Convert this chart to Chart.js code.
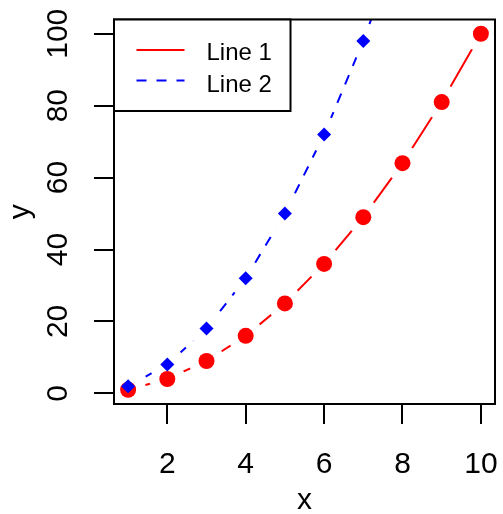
<!DOCTYPE html>
<html>
<head>
<meta charset="utf-8">
<script src="https://cdn.jsdelivr.net/npm/chart.js@4.4.1/dist/chart.umd.min.js"></script>
<style>
    html, body { margin: 0; padding: 0; background: #fff; }
    #wrap { width: 503px; height: 514px; }
</style>
</head>
<body>
<div id="wrap"><canvas id="plot" width="503" height="514"></canvas></div>
<script>
const xValues = [1, 2, 3, 4, 5, 6, 7, 8, 9, 10];
const line1 = [1, 4, 9, 16, 25, 36, 49, 64, 81, 100];
const line2 = [2, 8, 18, 32, 50, 72, 98, 128, 162, 200];
const seriesNames = ['Line 1', 'Line 2'];
const xTicks = [2, 4, 6, 8, 10];
const yTicks = [0, 20, 40, 60, 80, 100];

const red = '#ff0000';
const blue = '#0000ff';
const gap = 18;
const axisFont = '30px "Liberation Sans", Arial, sans-serif';
const legendFont = '24px "Liberation Sans", Arial, sans-serif';

function toPoints(ys) {
    return xValues.map((x, i) => ({x: x, y: ys[i]}));
}

// lines stop short of their own points (type "b" look)
const gapLines = {
    id: 'gapLines',
    beforeDatasetDraw(chart, args) {
        const ds = chart.data.datasets[args.index];
        if (!ds.gapped) return;
        const ctx = chart.ctx;
        ctx.save();
        ctx.beginPath();
        ctx.rect(0, 0, chart.width, chart.height);
        args.meta.data.forEach(p => {
            ctx.moveTo(p.x + gap, p.y);
            ctx.arc(p.x, p.y, gap, 0, Math.PI * 2);
        });
        ctx.clip('evenodd');
    },
    afterDatasetDraw(chart, args) {
        if (chart.data.datasets[args.index].gapped) chart.ctx.restore();
    }
};

// box, axis labels and legend
const frame = {
    id: 'frame',
    afterDraw(chart) {
        const ctx = chart.ctx;
        const a = chart.chartArea;
        const xs = chart.scales.x;
        const ys = chart.scales.y;
        ctx.save();
        ctx.strokeStyle = '#000';
        ctx.lineWidth = 2;
        ctx.strokeRect(a.left, a.top, a.right - a.left, a.bottom - a.top);

        ctx.fillStyle = '#000';
        ctx.font = axisFont;
        ctx.textAlign = 'center';
        ctx.textBaseline = 'alphabetic';
        xTicks.forEach(v => ctx.fillText(String(v), xs.getPixelForValue(v), 473));
        ctx.fillText('x', (a.left + a.right) / 2, 509);

        yTicks.forEach(v => {
            ctx.save();
            ctx.translate(67, ys.getPixelForValue(v));
            ctx.rotate(-Math.PI / 2);
            ctx.fillText(String(v), 0, 0);
            ctx.restore();
        });
        ctx.save();
        ctx.translate(29, (a.top + a.bottom) / 2);
        ctx.rotate(-Math.PI / 2);
        ctx.fillText('y', 0, 0);
        ctx.restore();

        // legend, top left
        const L = a.left, T = a.top;
        ctx.fillStyle = '#fff';
        ctx.fillRect(L, T, 176.5, 91.5);
        ctx.strokeRect(L, T, 176.5, 91.5);
        const rows = [
            {name: seriesNames[0], color: red, dash: []},
            {name: seriesNames[1], color: blue, dash: [10, 10]}
        ];
        ctx.font = legendFont;
        ctx.textAlign = 'left';
        rows.forEach((r, i) => {
            const ly = T + 30.5 + i * 30.5;
            ctx.strokeStyle = r.color;
            ctx.setLineDash(r.dash);
            ctx.beginPath();
            ctx.moveTo(L + 22.5, ly);
            ctx.lineTo(L + 70.5, ly);
            ctx.stroke();
            ctx.fillStyle = '#000';
            ctx.fillText(r.name, L + 92.5, T + 40.5 + i * 31.7);
        });
        ctx.restore();
    }
};

const tickGrid = {
    drawOnChartArea: false,
    drawTicks: true,
    tickLength: 20,
    lineWidth: 2,
    color: '#000'
};

new Chart(document.getElementById('plot'), {
    type: 'line',
    data: {
        datasets: [
            {
                label: seriesNames[1],
                data: toPoints(line2),
                showLine: false,
                pointStyle: 'rectRot',
                pointRadius: 7,
                pointBackgroundColor: blue,
                pointBorderWidth: 0,
                order: 0
            },
            {
                label: seriesNames[1],
                data: toPoints(line2),
                borderColor: blue,
                borderWidth: 2,
                borderDash: [10, 10],
                pointRadius: 0,
                tension: 0,
                gapped: true,
                order: 1
            },
            {
                label: seriesNames[0],
                data: toPoints(line1),
                showLine: false,
                pointStyle: 'circle',
                pointRadius: 8,
                pointBackgroundColor: red,
                pointBorderWidth: 0,
                order: 2
            },
            {
                label: seriesNames[0],
                data: toPoints(line1),
                borderColor: red,
                borderWidth: 2,
                pointRadius: 0,
                tension: 0,
                gapped: true,
                order: 3
            }
        ]
    },
    options: {
        responsive: false,
        animation: false,
        events: [],
        layout: {padding: {left: 0, top: 19.5, right: 5, bottom: 0}},
        plugins: {
            legend: {display: false},
            tooltip: {enabled: false}
        },
        scales: {
            x: {
                type: 'linear',
                min: 0.64,
                max: 10.36,
                afterBuildTicks: s => { s.ticks = xTicks.map(v => ({value: v})); },
                afterFit: s => { s.height = 110; },
                ticks: {display: false},
                grid: tickGrid,
                border: {display: false}
            },
            y: {
                type: 'linear',
                min: -2.96,
                max: 103.96,
                afterBuildTicks: s => { s.ticks = yTicks.map(v => ({value: v})); },
                afterFit: s => { s.width = 114; },
                ticks: {display: false},
                grid: tickGrid,
                border: {display: false}
            }
        }
    },
    plugins: [gapLines, frame]
});
</script>
</body>
</html>
